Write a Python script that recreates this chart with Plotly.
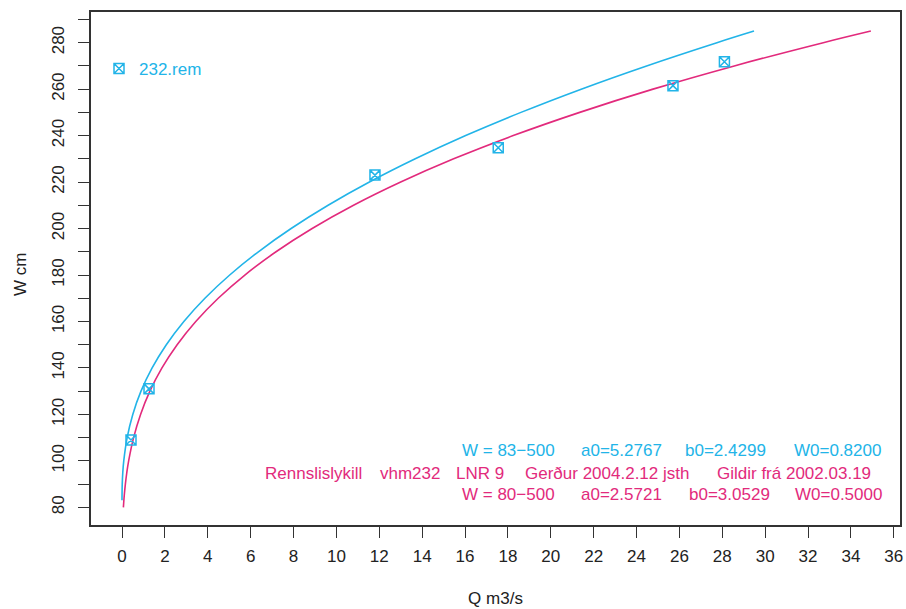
import plotly.graph_objects as go

# ---- data ----
# cyan rating curve (W = 83-500, a0=5.2767, b0=2.4299, W0=0.82)
cyan_W = [83, 84, 85, 87, 90, 95, 100, 110, 120, 130, 140, 150, 160, 170, 180,
          190, 200, 210, 220, 230, 240, 250, 260, 270, 280, 285]
cyan_Q = [0.0, 0.0, 0.001, 0.004, 0.011, 0.037, 0.082, 0.240, 0.503, 0.886, 1.405,
          2.067, 2.885, 3.868, 5.024, 6.362, 7.889, 9.614, 11.54, 13.68, 16.03,
          18.61, 21.42, 24.47, 27.75, 29.48]

# magenta rating curve (W = 80-500, a0=2.5721, b0=3.0529, W0=0.50)
mag_W = [80, 85, 90, 95, 100, 110, 120, 130, 140, 150, 160, 170, 180, 190, 200,
         210, 220, 230, 240, 250, 260, 270, 280, 285]
mag_Q = [0.065, 0.104, 0.157, 0.225, 0.310, 0.541, 0.866, 1.301, 1.864, 2.572,
         3.441, 4.488, 5.730, 7.185, 8.870, 10.80, 13.00, 15.47, 18.25, 21.35,
         24.77, 28.56, 32.71, 34.93]

# measurements (232.rem)
meas_Q = [0.42, 1.26, 11.8, 17.55, 25.7, 28.1]
meas_W = [109, 131, 223, 234.8, 261.5, 271.8]

x_ticks = list(range(0, 37, 2))

cyan_texts = ["W = 83\u2212500", "a0=5.2767", "b0=2.4299", "W0=0.8200"]
mid_texts = ["Rennslislykill", "vhm232", "LNR 9", "Ger\u00f0ur 2004.2.12 jsth",
             "Gildir fr\u00e1 2002.03.19"]
mag_texts = ["W = 80\u2212500", "a0=2.5721", "b0=3.0529", "W0=0.5000"]

# ---- styling / layout ----
CYAN = "#22B4E8"
MAG = "#E22A7C"
AX = "#333333"
FONT = "Liberation Sans, Arial, sans-serif"
FS = 17

L, R, T, B = 91, 900, 12, 525
W_PX, H_PX = 906, 609
pw, ph = R - L, B - T

def px(x):
    return (x - L) / pw

def py(y):
    return (B - y) / ph

fig = go.Figure()
fig.add_trace(go.Scatter(x=cyan_Q, y=cyan_W, mode="lines", line=dict(color=CYAN, width=1.6, shape="spline"),
                         showlegend=False, hoverinfo="skip"))
fig.add_trace(go.Scatter(x=mag_Q, y=mag_W, mode="lines", line=dict(color=MAG, width=1.6, shape="spline"),
                         showlegend=False, hoverinfo="skip"))
fig.add_trace(go.Scatter(x=meas_Q, y=meas_W, mode="markers", name="232.rem",
                         marker=dict(symbol="square-x-open", size=10, color=CYAN, line=dict(width=1.5, color=CYAN)),
                         showlegend=True))

annotations = []
cyan_x = [460, 579, 683, 792]
mid_x = [263, 378, 454, 523, 715]
mag_x = [460, 579, 687, 793]
for t, x in zip(cyan_texts, cyan_x):
    annotations.append(dict(text=t, x=px(x), y=py(450), xref="paper", yref="paper", xanchor="left",
                            yanchor="middle", showarrow=False, font=dict(color=CYAN, size=FS, family=FONT)))
for t, x in zip(mid_texts, mid_x):
    annotations.append(dict(text=t, x=px(x), y=py(473), xref="paper", yref="paper", xanchor="left",
                            yanchor="middle", showarrow=False, font=dict(color=MAG, size=FS, family=FONT)))
for t, x in zip(mag_texts, mag_x):
    annotations.append(dict(text=t, x=px(x), y=py(494), xref="paper", yref="paper", xanchor="left",
                            yanchor="middle", showarrow=False, font=dict(color=MAG, size=FS, family=FONT)))
# y-axis title
annotations.append(dict(text="W cm", x=px(20), y=py(275), xref="paper", yref="paper", xanchor="center",
                        yanchor="middle", textangle=-90, showarrow=False, font=dict(color="#222222", size=FS, family=FONT)))

fig.update_layout(
    width=W_PX, height=H_PX,
    margin=dict(l=L, r=W_PX - R, t=T, b=H_PX - B, autoexpand=False),
    paper_bgcolor="white", plot_bgcolor="white",
    font=dict(family=FONT, size=FS, color="#222222"),
    annotations=annotations,
    legend=dict(x=px(99), y=py(69), xanchor="left", yanchor="middle", bgcolor="rgba(0,0,0,0)",
                font=dict(color=CYAN, size=FS, family=FONT)),
)
fig.update_xaxes(
    range=[-1.446, 36.29], tickmode="array", tickvals=x_ticks, ticktext=[str(v) for v in x_ticks],
    ticks="outside", ticklen=11, tickwidth=1.3, tickcolor=AX, automargin=False, ticklabelstandoff=4,
    showline=True, linecolor=AX, linewidth=1.5, mirror=True,
    showgrid=False, zeroline=False,
    title=dict(text="Q m3/s", standoff=27, font=dict(size=FS)),
)
fig.update_yaxes(
    range=[72.4, 293.2], tick0=80, dtick=20, automargin=False,
    ticks="outside", ticklen=11, tickwidth=1.3, tickcolor=AX, tickangle=-90, ticklabelstandoff=7,
    minor=dict(dtick=10, tick0=80, ticks="outside", ticklen=11, tickwidth=1.3, tickcolor=AX, showgrid=False),
    showline=True, linecolor=AX, linewidth=1.5, mirror=True,
    showgrid=False, zeroline=False,
)

fig.write_html("out.html", config={"displayModeBar": False},
               post_script="document.body.style.margin='0';document.body.style.overflow='hidden';")
